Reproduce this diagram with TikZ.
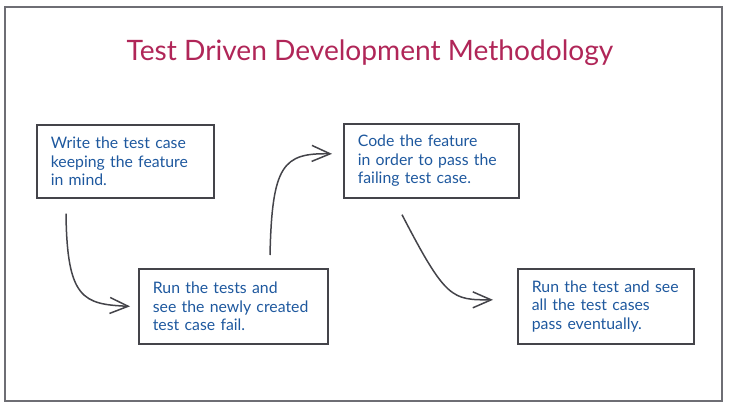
\documentclass[tikz,border=0pt]{standalone}
\usepackage{fontspec}
\setmainfont{Lato}
\usetikzlibrary{arrows.meta, positioning, calc}
\definecolor{TitleRed}{RGB}{176, 38, 88}
\definecolor{NoteBlue}{RGB}{30, 88, 158}
\definecolor{InkGray}{RGB}{68, 68, 74}
\definecolor{FrameGray}{RGB}{110, 110, 116}

\begin{document}
\begin{tikzpicture}[
    x=0.3mm, y=-0.3mm,
    note/.style={draw=InkGray, line width=0.5mm, anchor=north west, align=left, inner xsep=4.2mm, text=NoteBlue, font=\fontsize{13.5}{15.6}\selectfont},
    title/.style={text=TitleRed, font=\fontsize{24}{28}\selectfont},
    arrow/.style={-{Straight Barb[length=5.5mm, width=4.8mm]}, InkGray, line width=0.45mm},
    frame/.style={draw=FrameGray, line width=0.45mm}
]
\useasboundingbox (0,0) rectangle (730,409);

% Frame
\draw[frame] (5,7) rectangle (722,401);

% Title
\node[title] (title) at (370,53) {Test Driven Development Methodology};

% Steps
\node[note, minimum width=53.1mm, minimum height=21.9mm, text width=44.7mm] (b1) at (36,124) {Write the test case\\keeping the feature\\in mind.};
\node[note, minimum width=56.7mm, minimum height=22.5mm, text width=48.3mm] (b2) at (138,268) {Run the tests and\\see the newly created\\test case fail.};
\node[note, minimum width=52.5mm, minimum height=22.2mm, text width=44.1mm] (b3) at (343,123) {Code the feature\\in order to pass the\\failing test case.};
\node[note, minimum width=52.8mm, minimum height=22.5mm, text width=44.4mm] (b4) at (517,268) {Run the test and see\\all the test cases\\pass eventually.};

% Flow
\draw[arrow] ($(b1.south west)+(30,15)$) .. controls ($(b1.south west)+(31,100)$) and ($(b2.west)+(-55,-2)$) .. ($(b2.west)+(-8,0)$);
\draw[arrow] ($(b2.north west)+(132,-13)$) .. controls ($(b2.north west)+(134,-103)$) and ($(b3.west)+(-60,-8)$) .. ($(b3.west)+(-11,-7)$);
\draw[arrow] ($(b3.south west)+(59,16)$) .. controls ($(b3.south west)+(103,101)$) and ($(b4.west)+(-65,-6.5)$) .. ($(b4.west)+(-24,-6.5)$);

\end{tikzpicture}
\end{document}
